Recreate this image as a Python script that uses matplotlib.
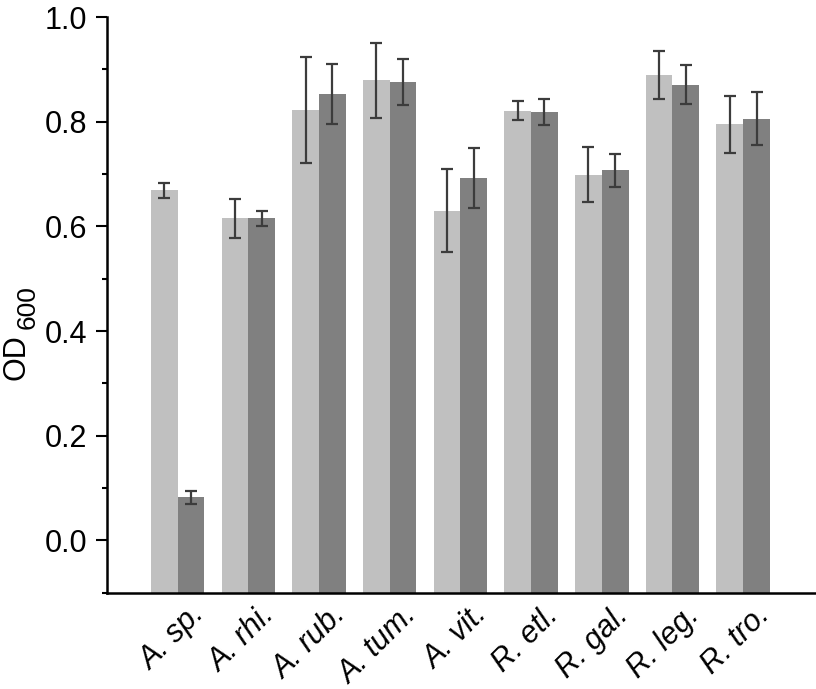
import numpy as np
import matplotlib
matplotlib.use("Agg")
import matplotlib.pyplot as plt
from matplotlib.transforms import ScaledTranslation

plt.rcParams['font.family'] = ['Liberation Sans', 'DejaVu Sans']

# strains and OD600 readings (two conditions)
strains = ["A. sp.", "A. rhi.", "A. rub.", "A. tum.", "A. vit.",
           "R. etl.", "R. gal.", "R. leg.", "R. tro."]
od_light = [0.669, 0.615, 0.823, 0.879, 0.630, 0.821, 0.699, 0.890, 0.795]
err_light = [0.014, 0.037, 0.101, 0.072, 0.079, 0.018, 0.052, 0.046, 0.055]
od_dark = [0.082, 0.615, 0.853, 0.876, 0.692, 0.818, 0.707, 0.871, 0.806]
err_dark = [0.012, 0.014, 0.057, 0.044, 0.057, 0.025, 0.032, 0.037, 0.051]

ymin, ymax = -0.1, 1.0
x = np.arange(1, len(strains) + 1)
w = 0.378

W, H = 816, 689
fig = plt.figure(figsize=(W / 100, H / 100), dpi=100)
ax = fig.add_axes([0.1311, 0.1398, 0.8689, 0.8355])

# bars start at the bottom of the axis, not at zero
ebar = dict(ecolor='#3c3c3c', elinewidth=1.6, capsize=4.2, capthick=1.6)
ax.bar(x - w / 2, np.array(od_light) - ymin, w, bottom=ymin, color='#c0c0c0',
       yerr=err_light, error_kw=ebar)
ax.bar(x + w / 2, np.array(od_dark) - ymin, w, bottom=ymin, color='#808080',
       yerr=err_dark, error_kw=ebar)

ax.set_ylim(ymin, ymax)
ax.set_xlim(0, 10.03)
ax.set_yticks([0.0, 0.2, 0.4, 0.6, 0.8, 1.0])
ax.set_yticks(np.arange(-0.1, 1.0, 0.2), minor=True)
ax.set_yticklabels(["0.0", "0.2", "0.4", "0.6", "0.8", "1.0"])
ax.tick_params(axis='y', which='major', length=7.7, width=1.5, pad=6.5,
               labelsize=22, direction='out')
ax.tick_params(axis='y', which='minor', length=3.6, width=1.5, direction='out')

ax.set_xticks(x)
ax.set_xticklabels(strains, fontstyle='italic', fontsize=22,
                   rotation=45, ha='right', va='baseline',
                   rotation_mode='anchor')
ax.tick_params(axis='x', length=0, pad=0)
offset = ScaledTranslation(20 / 72, -17 / 72, fig.dpi_scale_trans)
for lab in ax.get_xticklabels():
    lab.set_transform(lab.get_transform() + offset)

# y label: OD with a large subscript 600
fig.text(24 / W, 1 - 380 / H, "OD", fontsize=22, rotation=90,
         ha='left', va='baseline', rotation_mode='anchor')
fig.text(35 / W, 1 - 329 / H, "600", fontsize=19, rotation=90,
         ha='left', va='baseline', rotation_mode='anchor')

for s in ['top', 'right']:
    ax.spines[s].set_visible(False)
for s in ['left', 'bottom']:
    ax.spines[s].set_linewidth(1.8)

fig.savefig("out.png", dpi=100)
